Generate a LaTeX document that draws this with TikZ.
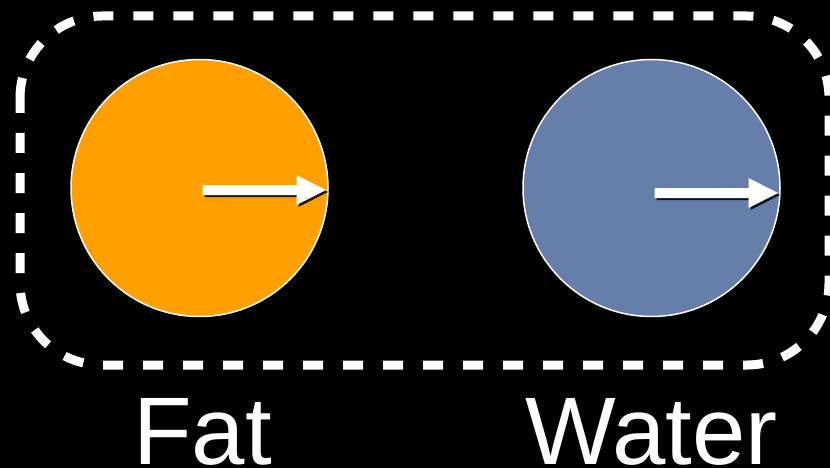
\documentclass[tikz,border=0pt]{standalone}
\usepackage{fontspec}
\setmainfont{Liberation Sans}
\definecolor{fatorange}{RGB}{255,160,0}
\definecolor{waterblue}{RGB}{102,126,170}
\tikzset{
  disc/.style={circle, draw=white, line width=1.5pt, minimum size=257pt, inner sep=0pt},
  arrowbody/.style={fill=white},
  arrowshade/.style={fill=black, opacity=0.85},
  label/.style={text=white, inner sep=0pt, anchor=base west, font=\fontsize{96}{96}\selectfont},
  frame/.style={draw=white, line width=9pt, dash pattern=on 20pt off 20pt, dash phase=5pt, rounded corners=82pt}
}
\begin{document}
\begin{tikzpicture}[x=1pt, y=-1pt]
  % background and page size
  \fill[black] (0,0) rectangle (830,468);
  \useasboundingbox (0,0) rectangle (830,468);

  % dashed enclosure
  \draw[frame] (20,16) rectangle (829,365);

  % the two spins
  \node[disc, fill=fatorange] (fat) at (199.5,188) {};
  \node[disc, fill=waterblue] (water) at (651.5,188) {};

  % magnetisation arrows with a soft drop shadow
  \foreach \cx/\cy/\nm in {199.5/190/fat, 651.5/193/water} {
    \begin{scope}[shift={(\cx,\cy)}]
      \fill[arrowshade] (5,-3) -- (99,-3) -- (99,-13) -- (128.5,2) -- (99,17) -- (99,7) -- (5,7) -- cycle;
      \fill[arrowbody] (3,-5) -- (97,-5) -- (97,-15) -- (126.5,0) -- (97,15) -- (97,5) -- (3,5) -- cycle;
    \end{scope}
  }

  % captions
  \node[label] (fatlabel) at (133,464) {Fat};
  \node[label] (waterlabel) at (525,464) {Water};
\end{tikzpicture}
\end{document}
